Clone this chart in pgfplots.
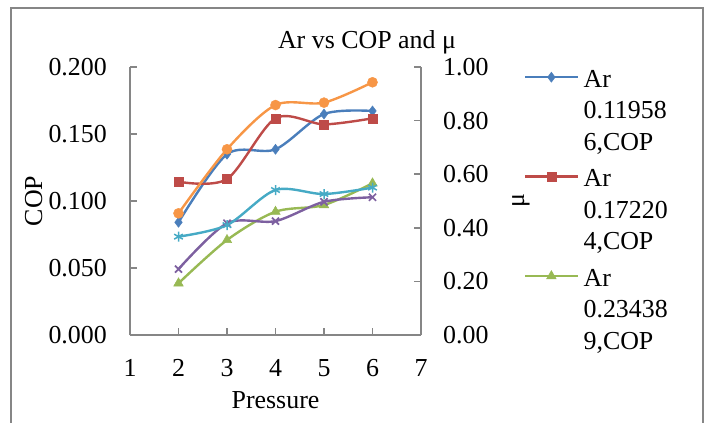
\documentclass[border=0pt]{standalone}
\usepackage{fontspec}
\setmainfont{Liberation Serif}
\usepackage{pgfplots}
\pgfplotsset{compat=1.18}

\definecolor{serBlue}{HTML}{4A7EBB}
\definecolor{serRed}{HTML}{BE4B48}
\definecolor{serGreen}{HTML}{98B954}
\definecolor{serPurple}{HTML}{7D60A0}
\definecolor{serCyan}{HTML}{46AAC5}
\definecolor{serOrange}{HTML}{F79646}
\definecolor{axGray}{HTML}{868686}

\newcommand{\chartfont}{\fontsize{26}{31.5}\selectfont}
% wrapped legend text, baseline on its first line
\newcommand{\legtext}[3]{\begin{tabular}[t]{@{}l@{}}#1\\#2\\#3\end{tabular}}

\pgfplotsset{
  chartaxis/.style={
    scale only axis,
    width=291bp, height=268bp,
    at={(130bp,-335bp)}, anchor=south west,
    xmin=1, xmax=7,
    font=\chartfont,
    tick align=inside,
    major tick length=7bp,
    axis line style={axGray, line width=1.5bp, -},
    every tick/.style={axGray, line width=1.5bp},
    /pgf/number format/assume math mode=true,
    every axis plot/.append style={smooth, tension=0.5, line width=2.4bp},
  },
}

\begin{document}
\begin{tikzpicture}
  % outer chart frame
  \draw[axGray, line width=2bp] (10.7bp,-430bp) -- (10.7bp,-8.3bp) -- (702.7bp,-8.3bp) -- (702.7bp,-430bp);

  % primary axis: COP
  \begin{axis}[
    chartaxis,
    axis x line*=bottom, axis y line*=left,
    ymin=0, ymax=0.2,
    ytick={0,0.05,0.1,0.15,0.2},
    xtick={1,2,3,4,5,6,7},
    yticklabel style={anchor=east, inner sep=0pt, xshift=-23bp,
      /pgf/number format/.cd, fixed, fixed zerofill, precision=3},
    xticklabel style={anchor=base, inner sep=0pt, yshift=-41bp},
    xlabel={Pressure},
    xlabel style={at={(axis description cs:0.5,-0.2724)}, anchor=base, inner sep=0pt},
    ylabel={COP},
    ylabel style={at={(axis description cs:-0.3024,0.5)}, anchor=base, rotate=0, inner sep=0pt},
    title={Ar vs COP and μ},
    title style={at={(axis description cs:0.8144,1.0485)}, anchor=base, inner sep=0pt},
    legend style={at={(axis description cs:1.3436,1.014)}, anchor=north west,
      draw=none, fill=none, font=\chartfont, row sep=76bp,
      nodes={inner sep=0pt}, column sep=5bp},
    legend cell align=left,
    legend image code/.code={
      \draw[mark repeat=2, mark phase=2, #1]
        plot coordinates {(0bp,0bp) (26bp,0bp) (52bp,0bp)};
    },
  ]
    \addplot[serBlue, mark=diamond*, mark size=5bp, mark options={fill=serBlue, draw=serBlue, line width=0.5bp}]
      coordinates {(2,0.0841) (3,0.1349) (4,0.1386) (5,0.1649) (6,0.1672)};
    \addlegendentry{\legtext{Ar}{0.11958}{6,COP}}
    \addplot[serRed, mark=square*, mark size=4.5bp, mark options={fill=serRed, draw=serRed, line width=0.5bp}]
      coordinates {(2,0.1144) (3,0.1164) (4,0.1617) (5,0.1572) (6,0.1617)};
    \addlegendentry{\legtext{Ar}{0.17220}{4,COP}}
    \addplot[serGreen, mark=triangle*, mark size=5.5bp, mark options={fill=serGreen, draw=serGreen, line width=0.5bp}]
      coordinates {(2,0.0386) (3,0.0709) (4,0.0920) (5,0.0970) (6,0.1132)};
    \addlegendentry{\legtext{Ar}{0.23438}{9,COP}}
  \end{axis}

  % secondary axis: mu
  \begin{axis}[
    chartaxis,
    axis y line*=right, axis x line=none,
    ymin=0, ymax=1,
    ytick={0,0.2,0.4,0.6,0.8,1},
    yticklabel style={anchor=west, inner sep=0pt, xshift=22bp,
      /pgf/number format/.cd, fixed, fixed zerofill, precision=2},
    ylabel={μ},
    ylabel style={at={(axis description cs:1.354,0.5)}, anchor=base, rotate=0, inner sep=0pt},
  ]
    \addplot[serPurple, mark=x, mark size=5bp, mark options={draw=serPurple, line width=1.7bp}]
      coordinates {(2,0.246) (3,0.417) (4,0.425) (5,0.497) (6,0.514)};
    \addplot[serCyan, mark=asterisk, mark size=5bp, mark options={draw=serCyan, line width=1.5bp}]
      coordinates {(2,0.367) (3,0.410) (4,0.541) (5,0.526) (6,0.550)};
    \addplot[serOrange, mark=*, mark size=5bp, mark options={fill=serOrange, draw=serOrange, line width=0.5bp}]
      coordinates {(2,0.454) (3,0.693) (4,0.858) (5,0.867) (6,0.943)};
  \end{axis}

  \pgfresetboundingbox
  \useasboundingbox (0bp,0bp) rectangle (706bp,-423bp);
\end{tikzpicture}
\end{document}
